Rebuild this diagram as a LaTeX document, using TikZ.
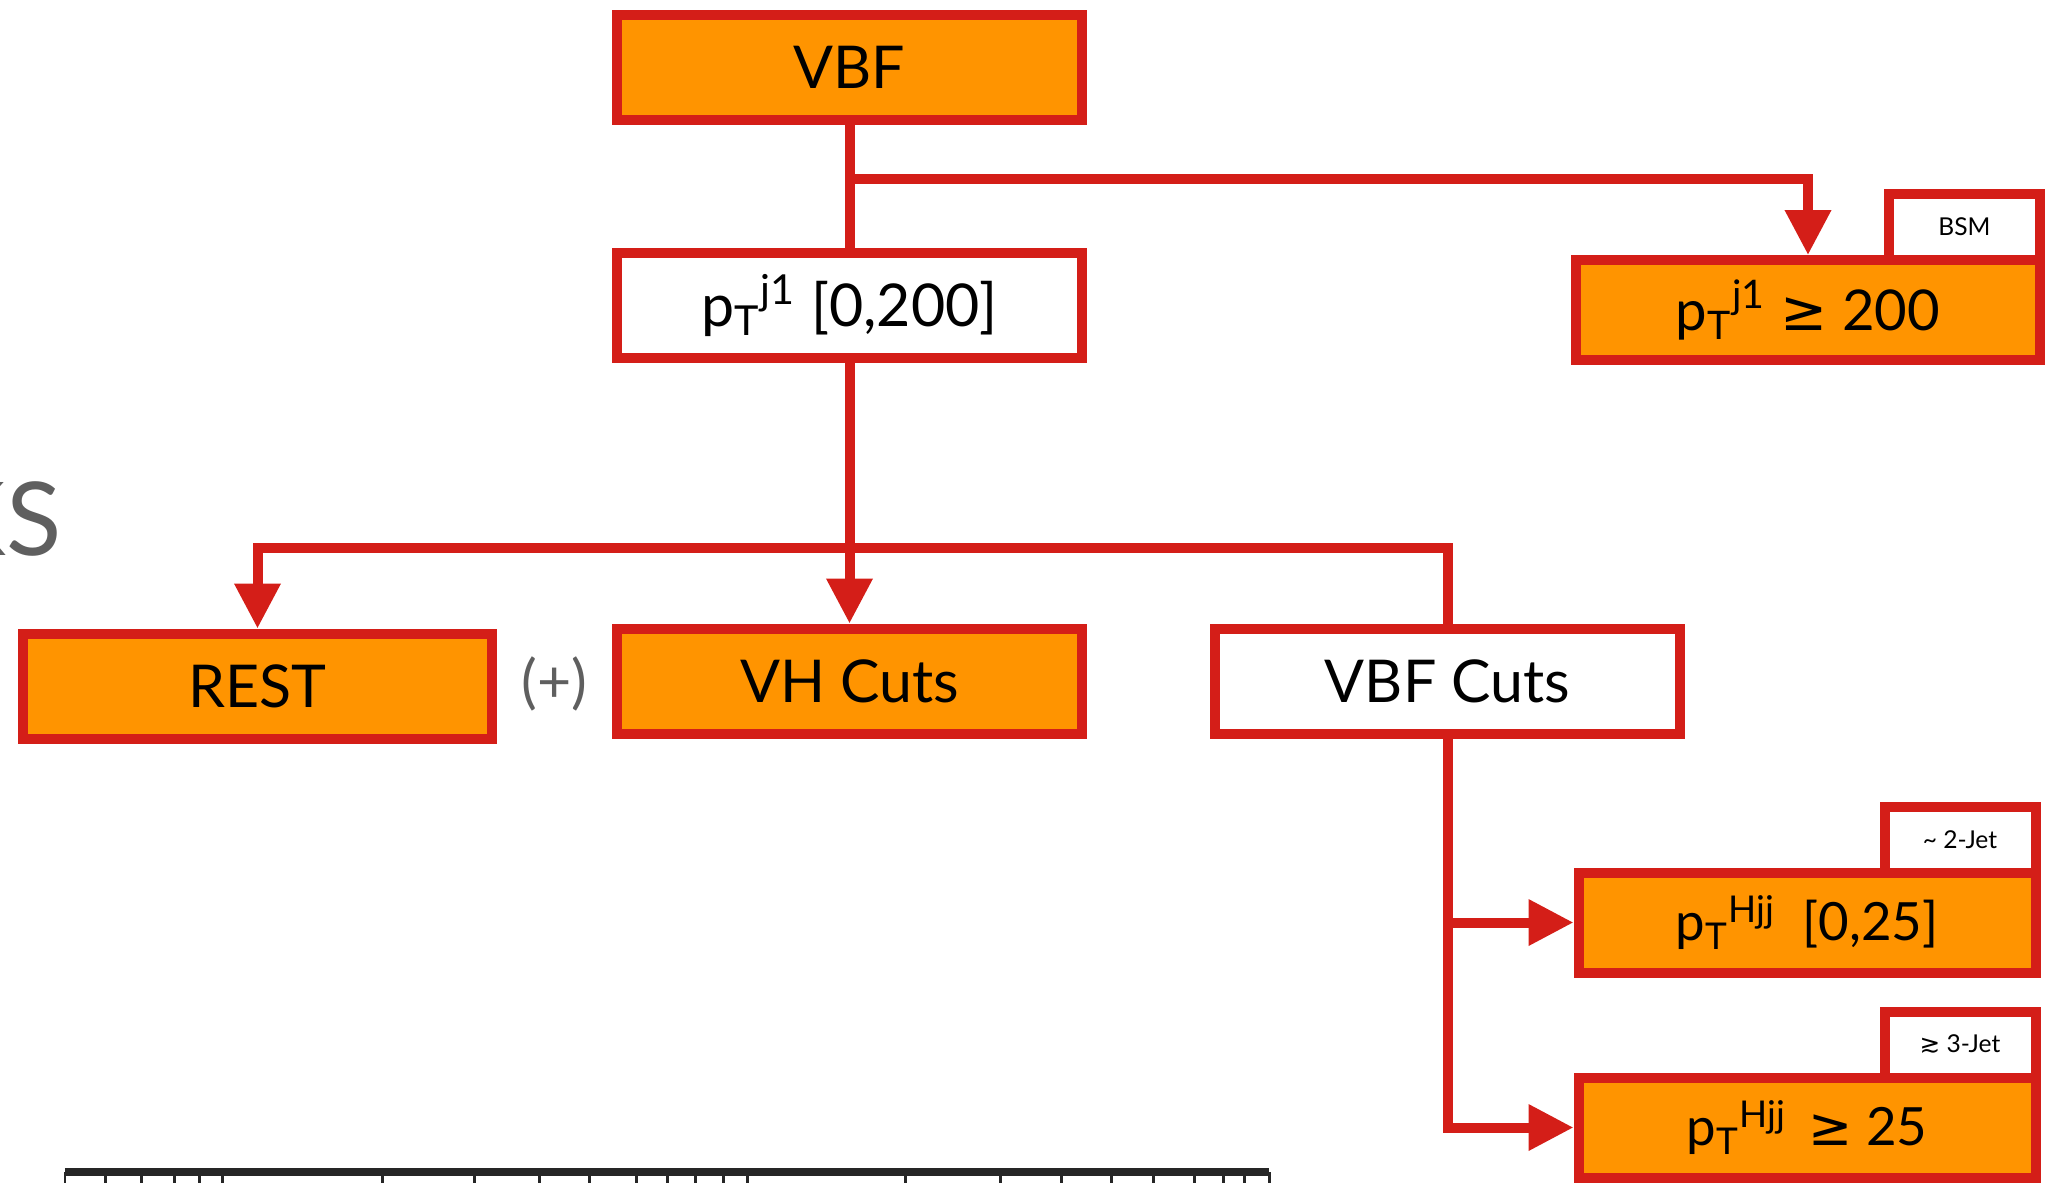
\documentclass[tikz,border=0pt]{standalone}
\usepackage{fontspec}
\setmainfont{Lato}
\newfontfamily\dejavu{DejaVu Sans}
\usetikzlibrary{arrows.meta, positioning, calc}

\definecolor{cutred}{RGB}{212,30,24}
\definecolor{cutorange}{RGB}{255,148,0}
\definecolor{textgray}{RGB}{95,95,95}

\begin{document}
\begin{tikzpicture}[
  box/.style={
    rectangle,
    draw=cutred,
    line width=1mm,
    minimum width=4.65cm,
    minimum height=1.05cm,
    inner sep=0pt,
    align=center,
    fill=white,
    font=\fontsize{16.8}{20}\selectfont
  },
  cut/.style={
    box,
    fill=cutorange
  },
  small/.style={
    minimum width=4.57cm,
    minimum height=1cm,
    font=\fontsize{15}{18}\selectfont
  },
  tag/.style={
    box,
    minimum width=1.51cm,
    minimum height=0.66cm,
    font=\fontsize{7}{8}\selectfont
  },
  link/.style={draw=cutred, line width=1mm},
  arrow/.style={link, -{Triangle[length=4.5mm, width=4.4mm]}}
]

\useasboundingbox (0,0) rectangle (20.49,-11.82);

% ============================================================
% Top: VBF and leading jet pT
% ============================================================

\node[cut] (vbf) at (8.495,-0.67) {VBF};
\node[box, below=1.23cm of vbf] (ptlow) {p\textsubscript{T}\textsuperscript{j1} [0,200]};
\node[cut, small, minimum width=4.64cm, font=\fontsize{16}{19}\selectfont, right=4.84cm of ptlow, yshift=-0.05cm] (pthigh) {p\textsubscript{T}\textsuperscript{j1} {\dejavu ≥} 200};
\node[tag, above left=-0.1cm and 0cm of pthigh.north east] (bsm) {BSM};

% ============================================================
% Middle: REST, VH and VBF cuts
% ============================================================

\node[cut, below=2.61cm of ptlow] (vh) {VH Cuts};
\node[cut, minimum width=4.69cm, left=1.15cm of vh, yshift=-0.05cm] (rest) {REST};
\node[box, right=1.23cm of vh] (vbfcuts) {VBF Cuts};
\node[text=textgray, font=\fontsize{16.8}{20}\selectfont] (plus) at ($(rest.east)!0.5!(vh.west)$) {(+)};

% ============================================================
% Bottom right: pT of Hjj
% ============================================================

\node[cut, small, below right=1.29cm and 1.26cm of vbfcuts.south] (hjjlow) {p\textsubscript{T}\textsuperscript{Hjj}\hspace{0.5em}[0,25]};
\node[cut, small, below=0.95cm of hjjlow] (hjjhigh) {p\textsubscript{T}\textsuperscript{Hjj}\hspace{0.4em}{\dejavu ≥} 25};
\node[tag, above left=-0.1cm and 0cm of hjjlow.north east] (twojet) {\textasciitilde{} 2-Jet};
\node[tag, above left=-0.1cm and 0cm of hjjhigh.north east] (threejet) {{\dejavu ≳} 3-Jet};

% slide title and table edge, cut off
\node[anchor=base east, inner sep=0pt, text=textgray, font=\fontsize{29}{34}\selectfont] (title) at (0.62,-5.55) {KS};

\draw[black!85, line width=0.08cm] (0.65,-11.72) -- (12.69,-11.72);
\foreach \x in {0.65,1.05,1.41,1.74,1.99,2.22,3.82,4.74,5.39,5.89,6.36,6.67,6.95,7.23,7.47,9.05,10.0,10.61,11.11,11.53,11.94,12.23,12.44,12.69}
  \draw[black!85, line width=0.03cm] (\x,-11.72) -- (\x,-11.9);

% ============================================================
% Connectors
% ============================================================

\coordinate (fork1) at ($(vbf.south)!0.44!(ptlow.north)$);
\coordinate (fork2) at ($(ptlow.south)!0.71!(vh.north)$);

\draw[link] (vbf.south) -- (ptlow.north);
\draw[arrow] (fork1) -| (pthigh.north);

\draw[arrow] (ptlow.south) -- (vh.north);
\draw[arrow] (vbfcuts.north) |- (fork2) -| (rest.north);

\draw[arrow] (vbfcuts.south) |- (hjjlow.west);
\draw[arrow] (vbfcuts.south) |- (hjjhigh.west);

\end{tikzpicture}
\end{document}
